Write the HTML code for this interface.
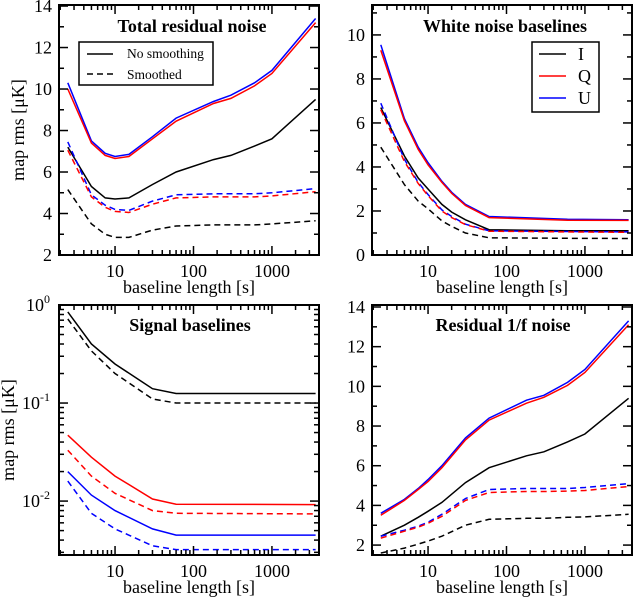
<!DOCTYPE html>
<html><head><meta charset="utf-8">
<style>
html,body{margin:0;padding:0;background:#fff;}
svg{display:block;font-family:"Liberation Serif",serif;}
</style></head>
<body>
<svg id="chart" width="633" height="598" viewBox="0 0 633 598" xmlns="http://www.w3.org/2000/svg"></svg>
<script>
// ---- Data ----
const xTL = [2.5,5,7.5,10,15,30,60,180,300,600,1000,3600];
const tlUSolid = [10.3,7.5,6.9,6.75,6.85,7.7,8.6,9.4,9.7,10.3,10.9,13.4];
const tlQSolid = [10.0,7.4,6.8,6.65,6.75,7.6,8.45,9.3,9.55,10.15,10.75,13.2];
const tlISolid = [7.2,5.3,4.75,4.7,4.75,5.4,6.0,6.6,6.8,7.25,7.6,9.5];
const tlUDash = [7.45,4.9,4.4,4.2,4.15,4.6,4.9,4.95,4.95,4.95,5.0,5.2];
const tlQDash = [7.05,4.8,4.3,4.1,4.05,4.45,4.75,4.8,4.8,4.8,4.85,5.05];
const tlIDash = [5.15,3.5,3.0,2.85,2.85,3.2,3.4,3.45,3.45,3.45,3.5,3.65];

const xTR = [2.5,5,7.5,10,15,20,30,60,600,3600];
const trUSolid = [9.55,6.2,4.9,4.2,3.35,2.85,2.3,1.75,1.62,1.6];
const trQSolid = [9.3,6.1,4.8,4.1,3.3,2.8,2.25,1.7,1.58,1.57];
const trISolid = [6.7,4.5,3.5,3.0,2.3,1.95,1.6,1.15,1.1,1.1];
const trUDash = [6.9,4.35,3.3,2.75,2.05,1.75,1.4,1.1,1.07,1.05];
const trQDash = [6.6,4.25,3.25,2.7,2.0,1.7,1.38,1.08,1.05,1.03];
const trIDash = [4.9,3.2,2.45,2.1,1.55,1.3,1.0,0.78,0.76,0.75];

const xBL = [2.5,5,10,30,60,3600];
const blISolid = [0.85,0.4,0.25,0.14,0.125,0.125];
const blIDash = [0.72,0.34,0.2,0.11,0.1,0.1];
const blQSolid = [0.047,0.028,0.018,0.0105,0.0093,0.0092];
const blQDash = [0.033,0.018,0.012,0.008,0.0075,0.0074];
const blUSolid = [0.020,0.0115,0.008,0.0052,0.0045,0.0045];
const blUDash = [0.016,0.0075,0.0052,0.0035,0.0032,0.0032];

const xBR = [2.5,5,7.5,10,15,30,60,180,300,600,1000,3600];
const brUSolid = [3.6,4.3,4.85,5.3,6.0,7.4,8.4,9.3,9.55,10.2,10.85,13.3];
const brQSolid = [3.5,4.25,4.8,5.2,5.9,7.3,8.3,9.15,9.45,10.05,10.7,13.1];
const brISolid = [2.45,3.0,3.4,3.7,4.15,5.15,5.9,6.5,6.7,7.2,7.6,9.4];
const brUDash = [2.45,2.75,2.95,3.15,3.55,4.35,4.8,4.85,4.85,4.85,4.9,5.1];
const brQDash = [2.35,2.7,2.9,3.1,3.45,4.25,4.65,4.7,4.7,4.72,4.75,4.95];
const brIDash = [1.6,1.85,2.05,2.2,2.45,3.0,3.3,3.35,3.35,3.4,3.42,3.55];

const xTickLabels = ["10","100","1000"];
const xTickValues = [10,100,1000];
const tlYTicks = [2,4,6,8,10,12,14];
const trYTicks = [0,2,4,6,8,10];
const brYTicks = [2,4,6,8,10,12,14];
const blYExp = [0,-1,-2];

const NS = "http://www.w3.org/2000/svg";
const svg = document.getElementById('chart');
function el(tag, attrs, parent){
  const e = document.createElementNS(NS, tag);
  for (const k in attrs) e.setAttribute(k, attrs[k]);
  (parent||svg).appendChild(e);
  return e;
}
const XMIN = 1.93, XMAX = 3980;

function makePanel(name, L, R, T, B, ymin, ymax, logY){
  const g = el('g', {});
  
  
  const xs = v => L + (Math.log10(v) - Math.log10(XMIN)) / (Math.log10(XMAX) - Math.log10(XMIN)) * (R - L);
  const ys = logY
    ? v => B - (Math.log10(v) - Math.log10(ymin)) / (Math.log10(ymax) - Math.log10(ymin)) * (B - T)
    : v => B - (v - ymin) / (ymax - ymin) * (B - T);
  return {g, xs, ys, L, R, T, B};
}
function tick(p, x1,y1,x2,y2){
  el('line',{x1,y1,x2,y2,stroke:'#000','stroke-width':1.5}, p.g);
}
function xAxis(p){
  const ax = el('g', {}, p.g);
  
  
  for (let d = 1; d <= 1000; d *= 10){
    for (let m = 1; m <= 9; m++){
      const v = d*m;
      if (v < XMIN || v > XMAX) continue;
      const x = p.xs(v);
      const len = m === 1 ? 9 : 5;
      tick({g:ax}, x, p.B, x, p.B - len);
      tick({g:ax}, x, p.T, x, p.T + len);
    }
  }
  xTickValues.forEach((v,i) => {
    const t = el('text',{x:p.xs(v), y:p.B+22, 'text-anchor':'middle','font-size':18}, ax);
    t.textContent = xTickLabels[i];
    
    
  });
  const lab = el('text',{x:(p.L+p.R)/2, y:p.B+38, 'text-anchor':'middle','font-size':18}, ax);
  lab.textContent = 'baseline length [s]';
  
  
}
function yAxisLin(p, ticks){
  const ax = el('g', {}, p.g);
  
  
  const step = ticks[1]-ticks[0];
  ticks.forEach(v => {
    const y = p.ys(v);
    tick({g:ax}, p.L, y, p.L+9, y);
    tick({g:ax}, p.R, y, p.R-9, y);
    const ym = p.ys(v + step/2);
    if (ym >= p.T){
      tick({g:ax}, p.L, ym, p.L+5, ym);
      tick({g:ax}, p.R, ym, p.R-5, ym);
    }
    const t = el('text',{x:p.L-7, y:y+6, 'text-anchor':'end','font-size':18}, ax);
    t.textContent = String(v);
    
    
  });
}
function yAxisLog(p){
  const ax = el('g', {}, p.g);
  
  
  for (let e = -3; e <= 0; e++){
    for (let m = 1; m <= 9; m++){
      const v = m * Math.pow(10, e);
      const y = p.ys(v);
      if (y < p.T - 0.5 || y > p.B) continue;
      const len = m === 1 ? 9 : 5;
      tick({g:ax}, p.L, y, p.L+len, y);
      tick({g:ax}, p.R, y, p.R-len, y);
    }
  }
  blYExp.forEach(e => {
    const y = p.ys(Math.pow(10,e));
    const t = el('text',{x:p.L-9, y:y+6, 'text-anchor':'end','font-size':18}, ax);
    
    
    t.appendChild(document.createTextNode('10'));
    const s = document.createElementNS(NS,'tspan');
    s.setAttribute('dy','-8'); s.setAttribute('font-size','12');
    s.textContent = String(e);
    t.appendChild(s);
  });
}
function yTitle(p, x){
  const t = el('text',{x:0,y:0,'text-anchor':'middle','font-size':18,
    transform:`translate(${x},${(p.T+p.B)/2}) rotate(-90)`}, p.g);
  t.textContent = 'map rms [μK]';
  
  
}
function series(p, xs, ys, color, dashed, name){
  const pts = xs.map((x,i) => `${p.xs(x).toFixed(1)},${p.ys(ys[i]).toFixed(1)}`).join(' ');
  const l = el('polyline',{points:pts, fill:'none', stroke:color, 'stroke-width':1.5,
    'stroke-dasharray': dashed ? '6,4' : 'none'}, p.g);
  
  
}
function frame(p){
  el('rect',{x:p.L,y:p.T,width:p.R-p.L,height:p.B-p.T,fill:'none',stroke:'#000','stroke-width':2}, p.g);
}
function title(p, txt, cx, y){
  const t = el('text',{x:cx, y, 'text-anchor':'middle','font-size':18,'font-weight':'bold'}, p.g);
  t.textContent = txt;
  
  
}
const K='#000', RD='#ff0000', BL='#0000ff';

// Top-left
const p1 = makePanel('panel-total-residual-noise', 59, 319, 5, 255, 2, 14.05, false);
series(p1,xTL,tlUSolid,BL,false,'line-u-solid');
series(p1,xTL,tlQSolid,RD,false,'line-q-solid');
series(p1,xTL,tlISolid,K,false,'line-i-solid');
series(p1,xTL,tlUDash,BL,true,'line-u-smoothed');
series(p1,xTL,tlQDash,RD,true,'line-q-smoothed');
series(p1,xTL,tlIDash,K,true,'line-i-smoothed');
frame(p1); xAxis(p1); yAxisLin(p1, tlYTicks); yTitle(p1, 24);
title(p1,'Total residual noise',192,32);
{
  const lg = el('g',{},p1.g);
  
  
  el('rect',{x:79,y:42,width:134,height:43,fill:'#fff',stroke:'#000','stroke-width':1.5},lg);
  el('line',{x1:87,y1:54,x2:113,y2:54,stroke:'#000','stroke-width':1.5},lg);
  el('line',{x1:87,y1:74,x2:113,y2:74,stroke:'#000','stroke-width':1.5,'stroke-dasharray':'6,4'},lg);
  const a = el('text',{x:127,y:58,'font-size':13.5},lg); a.textContent='No smoothing';
   
  const b = el('text',{x:127,y:79,'font-size':13.5},lg); b.textContent='Smoothed';
   
}

// Top-right
const p2 = makePanel('panel-white-noise-baselines', 372, 632, 5, 255, 0, 11.36, false);
series(p2,xTR,trUSolid,BL,false,'line-u-solid');
series(p2,xTR,trQSolid,RD,false,'line-q-solid');
series(p2,xTR,trISolid,K,false,'line-i-solid');
series(p2,xTR,trUDash,BL,true,'line-u-smoothed');
series(p2,xTR,trQDash,RD,true,'line-q-smoothed');
series(p2,xTR,trIDash,K,true,'line-i-smoothed');
frame(p2); xAxis(p2); yAxisLin(p2, trYTicks);
title(p2,'White noise baselines',505,32);
{
  const lg = el('g',{},p2.g);
  
  
  el('rect',{x:532,y:42,width:67,height:70,fill:'#fff',stroke:'#000','stroke-width':1.5},lg);
  [['I',K,54],['Q',RD,76],['U',BL,98]].forEach(([s,c,y])=>{
    el('line',{x1:539,y1:y,x2:566,y2:y,stroke:c,'stroke-width':1.5},lg);
    const t = el('text',{x:578,y:y+6,'font-size':18},lg); t.textContent=s;
    
    
  });
}

// Bottom-left
const p3 = makePanel('panel-signal-baselines', 59, 319, 305, 555, Math.pow(10,-2.55), 1, true);
series(p3,xBL,blISolid,K,false,'line-i-solid');
series(p3,xBL,blIDash,K,true,'line-i-smoothed');
series(p3,xBL,blQSolid,RD,false,'line-q-solid');
series(p3,xBL,blQDash,RD,true,'line-q-smoothed');
series(p3,xBL,blUSolid,BL,false,'line-u-solid');
series(p3,xBL,blUDash,BL,true,'line-u-smoothed');
frame(p3); xAxis(p3); yAxisLog(p3); yTitle(p3, 14);
title(p3,'Signal baselines',190,331);

// Bottom-right
const p4 = makePanel('panel-residual-1f-noise', 372, 632, 305, 555, 1.5, 14.1, false);
series(p4,xBR,brUSolid,BL,false,'line-u-solid');
series(p4,xBR,brQSolid,RD,false,'line-q-solid');
series(p4,xBR,brISolid,K,false,'line-i-solid');
series(p4,xBR,brUDash,BL,true,'line-u-smoothed');
series(p4,xBR,brQDash,RD,true,'line-q-smoothed');
series(p4,xBR,brIDash,K,true,'line-i-smoothed');
frame(p4); xAxis(p4); yAxisLin(p4, brYTicks);
title(p4,'Residual 1/f noise',503,331);
</script>
</body></html>
